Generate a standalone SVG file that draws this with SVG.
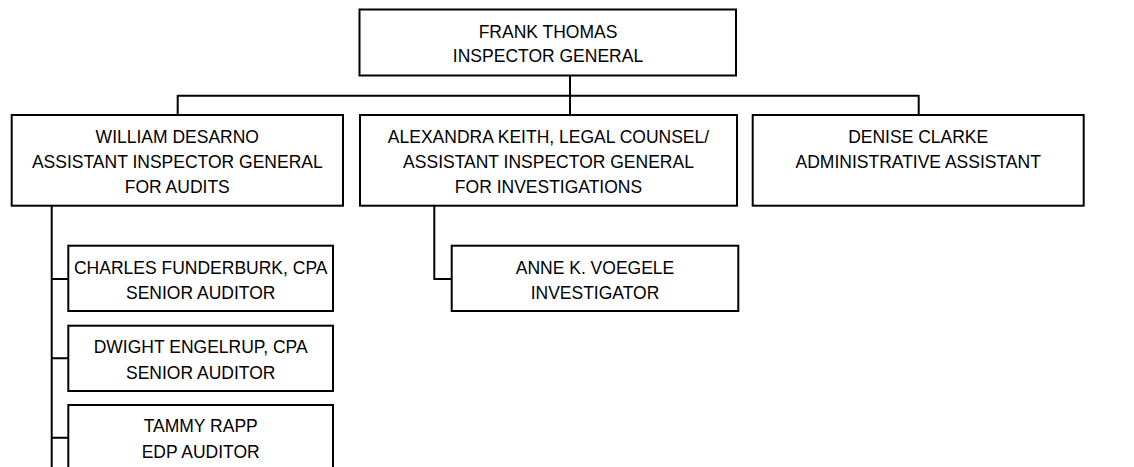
<svg xmlns="http://www.w3.org/2000/svg" width="1134" height="467" viewBox="0 0 1134 467">
<style>
.box{fill:#fff;stroke:#000;stroke-width:2}
.ln{fill:none;stroke:#000;stroke-width:2}
text{font-family:"Liberation Sans",Arial,sans-serif;font-size:17.5px;fill:#000;text-anchor:middle}
</style>
<rect width="1134" height="467" fill="#fff"/>
<g id="connectors">
<path class="ln" d="M570,75.5 V95.7 M177.7,95.7 H918.7 M177.7,95 V115 M570,95 V115 M918.7,95 V115"/>
<path class="ln" d="M51.7,205.7 V467 M51,279 H68.3 M51,358.3 H68.3 M51,437.7 H68.3"/>
<path class="ln" d="M434.3,205.7 V279 H451.7"/>
</g>
<g id="n-thomas">
<rect class="box" x="359.5" y="9.5" width="376.5" height="66"/>
<text x="548" y="38">FRANK THOMAS</text>
<text x="548" y="62">INSPECTOR GENERAL</text>
</g>
<g id="n-desarno">
<rect class="box" x="11.7" y="115" width="331.3" height="90.7"/>
<text x="177.3" y="143">WILLIAM DESARNO</text>
<text x="177.3" y="168">ASSISTANT INSPECTOR GENERAL</text>
<text x="177.3" y="193">FOR AUDITS</text>
</g>
<g id="n-keith">
<rect class="box" x="360" y="115" width="377" height="90.7"/>
<text x="548.5" y="143">ALEXANDRA KEITH, LEGAL COUNSEL/</text>
<text x="548.5" y="168">ASSISTANT INSPECTOR GENERAL</text>
<text x="548.5" y="193">FOR INVESTIGATIONS</text>
</g>
<g id="n-clarke">
<rect class="box" x="752.7" y="115" width="331" height="90.7"/>
<text x="918.2" y="143">DENISE CLARKE</text>
<text x="918.2" y="168">ADMINISTRATIVE ASSISTANT</text>
</g>
<g id="n-funderburk">
<rect class="box" x="68.3" y="245.7" width="264.7" height="65.3"/>
<text x="200.7" y="274">CHARLES FUNDERBURK, CPA</text>
<text x="200.7" y="299.3">SENIOR AUDITOR</text>
</g>
<g id="n-engelrup">
<rect class="box" x="68.3" y="325.7" width="264.7" height="65.3"/>
<text x="200.7" y="353.3">DWIGHT ENGELRUP, CPA</text>
<text x="200.7" y="379.3">SENIOR AUDITOR</text>
</g>
<g id="n-rapp">
<rect class="box" x="68.3" y="405" width="264.7" height="70"/>
<text x="200.7" y="432.3">TAMMY RAPP</text>
<text x="200.7" y="458.3">EDP AUDITOR</text>
</g>
<g id="n-voegele">
<rect class="box" x="451.7" y="245.7" width="286.6" height="65.3"/>
<text x="595" y="274">ANNE K. VOEGELE</text>
<text x="595" y="299.3">INVESTIGATOR</text>
</g>
</svg>
